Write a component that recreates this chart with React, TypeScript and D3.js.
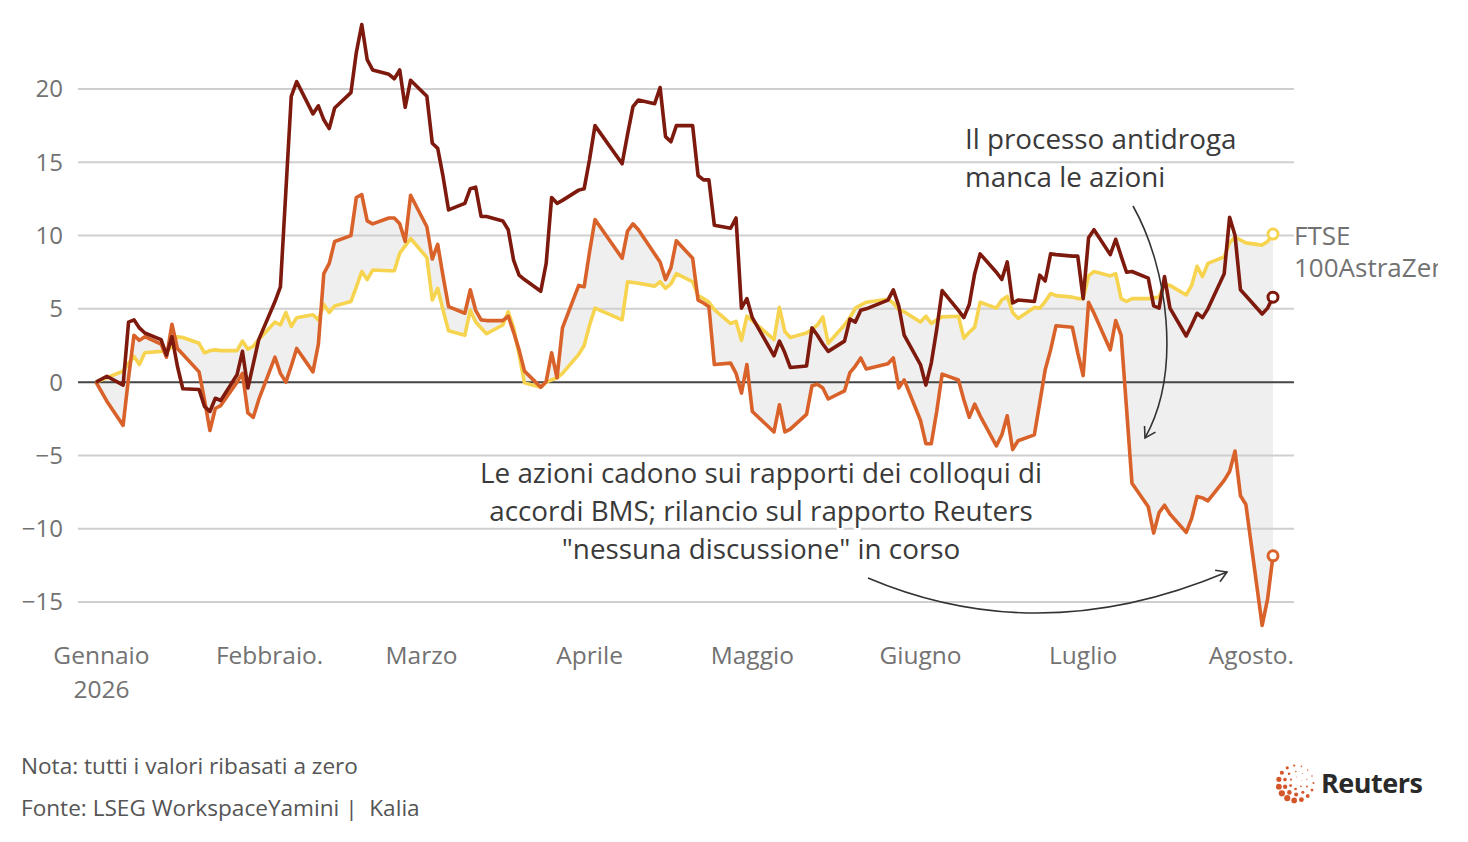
import React from 'react';
import * as d3 from 'd3';

// ---------- DATA ----------
const START = new Date(2025, 11, 31);
const END = new Date(2026, 7, 5);
const HOLIDAYS = ['2026-01-01', '2026-04-03', '2026-04-06', '2026-05-04', '2026-05-25'];

// dark red line (unlabelled peer)
const peer = [
  0,
  0.4, -0.2, 4.1, 4.25, 3.7, 3.35, 2.9, 1.85, 3.1, 1.1, -0.45, -0.5, -1.65, -2.0, -1.1, -1.25, 0.5, 2.1, -0.4, 1.25, 2.9,
  5.5, 6.5, 13.0, 19.5, 20.5, 18.3, 18.85, 17.9, 17.3, 18.7, 19.75, 22.5, 24.4, 22.0, 21.3, 21.0, 20.7, 21.3, 18.75, 20.6,
  19.5, 16.3, 15.95, 14.0, 11.75, 12.2, 13.2, 13.3, 11.3, 11.3, 11.0, 10.4, 8.3, 7.3, 7.0, 6.2, 8.1, 12.6, 12.2, 12.4, 13.1, 13.2,
  15.2, 17.5, 14.9, 16.9, 18.8, 19.25, 19.0, 20.1, 16.75, 16.4, 17.5, 17.5, 14.1, 13.8, 13.8, 10.7, 10.5, 11.2, 5.05, 5.7,
  4.4, 1.8, 2.8, 2.0, 1.0, 1.1, 3.7, 3.2, 2.6, 2.1, 2.8, 4.3, 4.1, 4.9, 5.0, 5.6, 6.3, 5.2, 3.2,
  1.2, -0.2, 1.3, 3.6, 6.25, 4.9, 4.4, 5.3, 7.4, 8.75, 7.5, 7.0, 8.2, 5.4, 5.6, 5.5, 7.3, 6.9, 8.75, 8.7, 8.6, 8.6,
  5.7, 9.85, 10.4, 8.7, 9.75, 8.6, 7.5, 7.55, 7.1, 5.2, 5.05, 7.2, 5.05, 3.15, 3.9, 4.7, 4.4, 5.0, 7.4, 11.25, 10.0, 6.3, 5.9,
  4.65, 5.05, 5.8,
];

// orange line (AstraZeneca)
const astra = [
  0,
  -1.3, -2.95, 0.3, 3.2, 2.85, 3.1, 2.6, 1.7, 3.95, 2.3, 1.9, 0.7, -1.2, -3.3, -1.8, -1.6, 0.0, 0.6, -2.1, -2.4, -1.2,
  1.7, 0.6, 0.0, 1.1, 2.3, 0.7, 2.6, 7.4, 8.1, 9.6, 10.0, 12.6, 12.8, 11.0, 10.8, 11.2, 11.2, 10.8, 9.6, 12.75,
  10.6, 8.4, 9.4, 7.2, 5.15, 4.7, 6.3, 4.9, 4.25, 4.2, 4.2, 4.5, 3.4, 2.2, 0.75, -0.35, 0.05, 2.0, 0.3, 3.7, 6.6, 6.5,
  8.9, 11.1, 8.45, 10.3, 10.8, 10.4, 8.75, 8.2, 7.0, 7.8, 9.65, 8.45, 5.6, 5.4, 5.15, 1.2, 1.3, 0.6, -0.75, 1.2,
  -2.0, -3.4, -1.55, -3.4, -3.2, -2.2, -0.25, -0.15, -0.4, -1.15, -0.6, 0.65, 1.1, 1.65, 0.9, 1.25, 1.65, -0.4, 0.15,
  -2.6, -4.2, -4.2, -2.0, 0.55, 0.15, -1.2, -2.4, -1.5, -2.3, -4.35, -3.6, -2.3, -4.6, -4.0, -3.6, -1.4, 0.85, 2.2, 3.85, 3.75, 2.0,
  0.45, 5.45, 4.7, 2.2, 4.2, 3.2, -1.8, -6.9, -8.5, -10.3, -8.9, -8.4, -9.0, -10.25, -9.3, -7.8, -7.9, -8.1, -6.7, -6.1, -4.7, -7.75, -8.35,
  -16.6, -14.8, -11.85,
];

// yellow line (FTSE 100)
const ftse = [
  0,
  0.3, 0.75, 1.3, 1.75, 1.2, 2.0, 2.1, 2.15, 2.4, 3.1, 3.05, 2.65, 2.0, 2.15, 2.2, 2.15, 2.15, 2.8, 2.25, 2.45, 2.9,
  4.1, 3.9, 4.75, 3.8, 4.4, 4.6, 4.25, 5.3, 4.75, 5.2, 5.5, 6.5, 7.55, 7.0, 7.65, 7.6, 7.6, 8.8, 9.3, 9.8,
  8.5, 5.6, 6.4, 4.9, 3.5, 3.2, 4.9, 4.1, 3.7, 3.3, 3.9, 4.8, 3.7, 1.9, -0.05, -0.35, 0.0, 0.15, 0.3, 0.6, 1.9, 2.5,
  3.9, 5.05, 4.25, 6.85, 6.8, 6.75, 6.55, 6.85, 6.4, 6.7, 7.4, 6.85, 5.9, 5.7, 5.45, 4.95, 4.0, 4.15, 2.85, 4.5,
  4.2, 2.9, 5.1, 3.45, 3.05, 3.35, 3.6, 3.9, 4.45, 2.65, 3.9, 4.4, 5.05, 5.25, 5.45, 5.65, 5.4, 4.95, 4.8,
  4.1, 4.5, 4.0, 4.25, 4.45, 4.5, 3.0, 3.4, 3.75, 5.45, 5.05, 5.6, 5.85, 4.75, 4.35, 5.1, 5.05, 5.5, 6.05, 5.9, 5.8, 5.7,
  5.7, 7.25, 7.55, 7.25, 7.4, 5.7, 5.5, 5.7, 5.7, 5.75, 5.8, 6.7, 6.6, 5.95, 6.6, 7.9, 7.2, 8.1, 8.55, 9.5, 9.9, 9.7, 9.5,
  9.35, 9.6, 10.1,
];

const yTicks = [-15, -10, -5, 0, 5, 10, 15, 20];
const monthLabels = ['Gennaio', 'Febbraio.', 'Marzo', 'Aprile', 'Maggio', 'Giugno', 'Luglio', 'Agosto.'];

// ---------- STYLE ----------
const FONT = '"Open Sans", "Noto Sans", sans-serif';
const C_PEER = '#7d1a0d';
const C_AZN = '#d9622b';
const C_FTSE = '#f6d44f';
const C_TEXT = '#727272';
const C_ANN = '#3a3a3a';

const fmt = d3.timeFormat('%Y-%m-%d');
const dates = d3.timeDay
  .range(START, d3.timeDay.offset(END, 1))
  .filter((d) => d.getDay() !== 0 && d.getDay() !== 6 && !HOLIDAYS.includes(fmt(d)));

const x = d3.scaleTime().domain([START, END]).range([96, 1273]);
const y = d3.scaleLinear().domain([-15, 20]).range([602, 89]);

const line = d3
  .line<number>()
  .x((_, i) => x(dates[i]))
  .y((v) => y(v));

const area = d3
  .area<number>()
  .x((_, i) => x(dates[i]))
  .y0((_, i) => y(ftse[i]))
  .y1((v) => y(v));

const months = d3.timeMonth.range(new Date(2026, 0, 1), new Date(2026, 7, 2));

function arrowHead(tip: [number, number], from: [number, number], len = 12, ang = 0.55) {
  const a = Math.atan2(tip[1] - from[1], tip[0] - from[0]);
  const p1 = [tip[0] - len * Math.cos(a - ang), tip[1] - len * Math.sin(a - ang)];
  const p2 = [tip[0] - len * Math.cos(a + ang), tip[1] - len * Math.sin(a + ang)];
  return `M${p1[0]},${p1[1]}L${tip[0]},${tip[1]}L${p2[0]},${p2[1]}`;
}

function ReutersLogo({ cx, cy }: { cx: number; cy: number }) {
  const rings = [
    { r: 17.5, n: 15, s: 2.7 },
    { r: 11.5, n: 10, s: 2.0 },
    { r: 6, n: 6, s: 1.3 },
  ];
  const dots: JSX.Element[] = [];
  rings.forEach((ring, ri) => {
    for (let k = 0; k < ring.n; k++) {
      const a = (k / ring.n) * Math.PI * 2 + ri * 0.3;
      const w = 0.7 + 0.45 * Math.cos(a - (3 * Math.PI) / 4);
      dots.push(
        <circle key={`${ri}-${k}`} cx={cx + ring.r * Math.cos(a)} cy={cy + ring.r * Math.sin(a)} r={ring.s * w} fill="#d4572a" />
      );
    }
  });
  return <g>{dots}</g>;
}

export default function App() {
  const last = dates.length - 1;
  const haloProps = {
    stroke: '#fff',
    strokeWidth: 5,
    paintOrder: 'stroke' as any,
    strokeLinejoin: 'round' as const,
  };
  return (
    <svg
      width={1468}
      height={842}
      style={{ position: 'absolute', left: 0, top: 0, background: '#fff', fontFamily: FONT }}
    >
      <defs>
        <clipPath id="clipRight">
          <rect x={0} y={0} width={1438} height={842} />
        </clipPath>
      </defs>

      {/* shaded band between FTSE and AstraZeneca */}
      <path d={area(astra) || ''} fill="#efefef" />

      {/* grid */}
      {yTicks.map((t) => (
        <g key={t}>
          <line x1={78} x2={1294} y1={y(t)} y2={y(t)} stroke={t === 0 ? '#444' : '#cfcfcf'} strokeWidth={2} />
          <text x={63} y={y(t)} dy="0.35em" textAnchor="end" fontSize={24} fill={C_TEXT}>
            {t < 0 ? `\u2212${Math.abs(t)}` : t}
          </text>
        </g>
      ))}

      {/* x axis labels */}
      {months.map((m, i) => (
        <text key={i} x={x(m)} y={664} textAnchor="middle" fontSize={24.5} fill={C_TEXT}>
          {monthLabels[i]}
        </text>
      ))}
      <text x={x(months[0])} y={698} textAnchor="middle" fontSize={24.5} fill={C_TEXT}>
        2026
      </text>

      {/* annotations */}
      <g fill={C_ANN} fontSize={27.8}>
        <text x={965} y={149} {...haloProps}>Il processo antidroga</text>
        <text x={965} y={187} {...haloProps}>manca le azioni</text>
        <text x={761} y={483} textAnchor="middle" {...haloProps}>Le azioni cadono sui rapporti dei colloqui di</text>
        <text x={761} y={521} textAnchor="middle" {...haloProps}>accordi BMS; rilancio sul rapporto Reuters</text>
        <text x={761} y={559} textAnchor="middle" {...haloProps}>"nessuna discussione" in corso</text>
      </g>

      {/* lines */}
      <path d={line(ftse) || ''} fill="none" stroke={C_FTSE} strokeWidth={3.6} strokeLinejoin="round" />
      <path d={line(astra) || ''} fill="none" stroke={C_AZN} strokeWidth={3.6} strokeLinejoin="round" />
      <path d={line(peer) || ''} fill="none" stroke={C_PEER} strokeWidth={3.6} strokeLinejoin="round" />

      {/* arrows */}
      <g fill="none" stroke="#333" strokeWidth={1.6}>
        <path d="M1133,206 C1168,268 1182,372 1145,438" />
        <path d={arrowHead([1145, 438], [1182, 372])} />
        <path d="M868,578 Q1040,651 1227,572" />
        <path d={arrowHead([1227, 572], [1040, 651])} />
      </g>

      {/* end markers */}
      {[
        { s: ftse, c: C_FTSE },
        { s: peer, c: C_PEER },
        { s: astra, c: C_AZN },
      ].map((m, i) => (
        <circle key={i} cx={x(dates[last])} cy={y(m.s[last])} r={5} fill="#fff" stroke={m.c} strokeWidth={3} />
      ))}

      {/* series label (clipped at the right edge as in the original) */}
      <g clipPath="url(#clipRight)" fontSize={26} fill={C_TEXT}>
        <text x={1294} y={245}>FTSE</text>
        <text x={1294} y={277}>100AstraZeneca</text>
      </g>

      {/* footer */}
      <text x={21} y={774} fontSize={22.6} fill="#555">Nota: tutti i valori ribasati a zero</text>
      <text x={21} y={816} fontSize={22.6} fill="#555" style={{ whiteSpace: 'pre' }}>
        {'Fonte: LSEG WorkspaceYamini |  Kalia'}
      </text>

      <ReutersLogo cx={1296} cy={783} />
      <text x={1321} y={793} fontSize={27} fontWeight={700} fill="#2a2a2a" letterSpacing={-0.5}>
        Reuters
      </text>
    </svg>
  );
}
